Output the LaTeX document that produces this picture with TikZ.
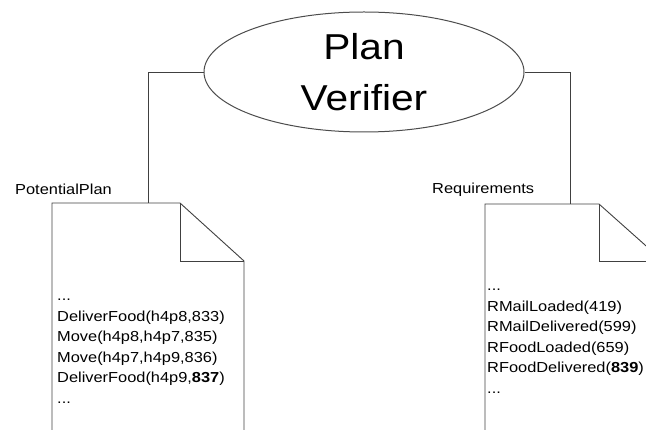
\documentclass[tikz,border=0pt]{standalone}
\usepackage{fontspec}
\setmainfont[FakeStretch=1.13]{Liberation Sans}
\usetikzlibrary{shapes.geometric}
\begin{document}
\begin{tikzpicture}[x=1pt,y=-1pt,
  line/.style={draw=black!75, line width=0.9pt},
  smalltext/.style={font=\fontsize{14.5}{20.5}\selectfont, inner sep=0pt},
  doctext/.style={smalltext, anchor=base west, text width=220pt, align=left},
]
\useasboundingbox (0,0) rectangle (646,430);
\clip (0,0) rectangle (646,430);
% verifier ellipse
\node[ellipse, draw=black!70, line width=1pt, minimum width=320pt, minimum height=120pt,
      inner sep=0pt, align=center, font=\fontsize{36}{51}\selectfont] (pv) at (364,72) {Plan\\Verifier};
% documents
\draw[line] (52,432) -- (52,203) -- (180,203) -- (244,261) -- (244,432);
\draw[line] (180,203) -- (180,261) -- (244,261);
\draw[line] (485,432) -- (485,204) -- (599,204) -- (663,261) -- (663,432);
\draw[line] (599,204) -- (599,261) -- (663,261);
\coordinate (pptop) at (148,203);
\coordinate (rqtop) at (570,204);
% connectors
\draw[line] (pv.west) -| (pptop);
\draw[line] (pv.east) -| (rqtop);
% labels
\node[smalltext, anchor=base west] (pplabel) at (15,195) {PotentialPlan};
\node[smalltext, anchor=base west] (rqlabel) at (432,194) {Requirements};
\node[doctext] (pptext) at (57,300.7) {...\\DeliverFood(h4p8,833)\\Move(h4p8,h4p7,835)\\Move(h4p7,h4p9,836)\\DeliverFood(h4p9,\textbf{837})\\...};
\node[doctext] (rqtext) at (487,290.7) {...\\RMailLoaded(419)\\RMailDelivered(599)\\RFoodLoaded(659)\\RFoodDelivered(\textbf{839})\\...};
\end{tikzpicture}
\end{document}
